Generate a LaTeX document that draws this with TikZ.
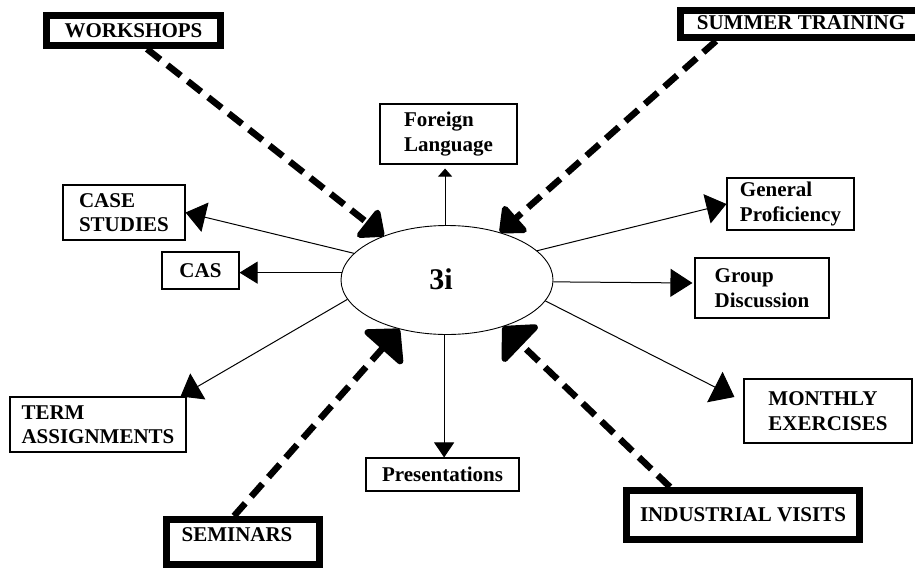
\documentclass[tikz,border=0pt]{standalone}
\usepackage{fontspec}
\setmainfont{Liberation Serif}
\usetikzlibrary{arrows.meta,shapes.geometric,calc}
\begin{document}
\begin{tikzpicture}[x=1pt,y=-1pt,
  every node/.style={font=\bfseries\fontsize{21}{24.5}\selectfont, inner sep=0pt, text=black},
  box/.style={draw, line width=1.1pt, align=left},
  heavybox/.style={draw, line width=7pt, align=center},
  thinarrow/.style={line width=1pt, -{Triangle[length=20pt,width=30pt]}},
  dasharrow/.style={line width=6.5pt, dash pattern=on 17pt off 9pt, -{Triangle[length=24pt,width=40pt,round]}},
  bigtip/.style={-{Triangle[length=28pt,width=58pt,round]}},
  hub/.style={draw, ellipse, line width=0.9pt},
]
\fill[white] (0,0) rectangle (915,571);
\useasboundingbox (0,0) rectangle (915,571);

% centre
\node[hub, minimum width=212pt, minimum height=109pt] (ell) at (447,280) {};
\node[font=\bfseries\fontsize{30}{34}\selectfont] (t3i) at (441,279) {3i};

% outer heavy boxes
\node[heavybox, minimum width=174pt, minimum height=30pt] (ws) at (133.5,30.5) {WORKSHOPS};
\node[heavybox, minimum width=254.5pt, minimum height=27pt] (st) at (807.75,24) {};
\node (stt) at (801,23) {SUMMER TRAINING};
\node[heavybox, minimum width=153pt, minimum height=45pt] (sem) at (243,542) {};
\node (semt) at (237,535) {SEMINARS};
\node[heavybox, minimum width=233pt, minimum height=49pt] (iv) at (743,515) {INDUSTRIAL VISITS};

% thin boxes
\node[box, minimum width=137pt, minimum height=60pt] (fl) at (448.5,134) {Foreign\\Language};
\node[box, minimum width=122pt, minimum height=55pt] (cs) at (124,212.5) {CASE\\STUDIES};
\node[box, minimum width=77pt, minimum height=37pt] (cas) at (200.5,270.5) {CAS};
\node[box, minimum width=127pt, minimum height=52pt] (gp) at (790.5,204) {General\\Proficiency};
\node[box, minimum width=134pt, minimum height=60pt] (gd) at (762,288) {Group\\Discussion};
\node[box, minimum width=176pt, minimum height=55pt] (ta) at (98,424.5) {TERM\\ASSIGNMENTS};
\node[box, minimum width=153pt, minimum height=33pt] (pr) at (442.5,474.5) {Presentations};
\node[box, minimum width=168pt, minimum height=64pt] (me) at (828,411) {MONTHLY\\EXERCISES};

% thin arrows out of the hub
\draw[thinarrow] (ell.164) -- (cs.east);
\draw[thinarrow, -{Triangle[length=18pt,width=22pt]}] (ell.176) -- (ell.176 -| cas.east);
\draw[thinarrow, -{Triangle[length=8pt,width=14pt]}] (ell.92) -- ($(ell.92 |- fl.south)+(0,4)$);
\draw[thinarrow] (ell.18) -- (gp.west);
\draw[thinarrow, -{Triangle[length=22pt,width=28pt]}] (ell.-1) -- ($(gd.west)+(-2,-5)$);
\draw[thinarrow, -{Triangle[length=22pt,width=34pt]}] (ell.-12) -- ($(me.west)+(-9,-14)$);
\draw[thinarrow] (ell.191) -- ($(ta.north east)+(-6,0)$);
\draw[thinarrow, -{Triangle[length=15pt,width=20pt]}] (ell.-93) -- (ell.-93 |- pr.north);

% dashed heavy arrows into the hub
\draw[dasharrow] ($(ws.south)+(13.5,0)$) -- (ell.145);
\draw[dasharrow] ($(st.south)+(-91.75,0)$) -- (ell.42);
\draw[dasharrow, bigtip] ($(sem.north)+(-9,0)$) -- (ell.226);
\draw[dasharrow, bigtip] ($(iv.north)+(-73,0)$) -- (ell.-40);
\end{tikzpicture}
\end{document}
